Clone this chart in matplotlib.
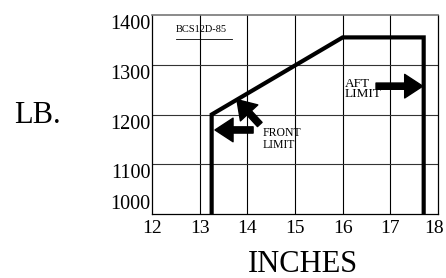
import matplotlib.pyplot as plt
import matplotlib.transforms as mtransforms

# 数据
envelope_x = [13.25, 13.25, 16.0, 17.7, 17.7]
envelope_y = [1000, 1200, 1355, 1355, 1000]
x_ticks = [12, 13, 14, 15, 16, 17, 18]
y_ticks = [1000, 1100, 1200, 1300, 1400]

plt.rcParams['font.family'] = ['Liberation Serif', 'DejaVu Serif']

fig = plt.figure(figsize=(4.46, 2.78), dpi=100)
ax = fig.add_axes([0.341, 0.230, 0.641, 0.716])

ax.set_xlim(12, 18)
ax.set_ylim(1000, 1400)
ax.set_xticks(x_ticks)
ax.set_yticks(y_ticks)
ax.tick_params(length=0, labelsize=14.5)
ax.tick_params(axis='x', pad=4, labelsize=14)
ax.tick_params(axis='y', pad=1)
# 纵轴标签顶端对齐网格线，最下面一个底端对齐
for lab in ax.get_yticklabels():
    lab.set_va('top')
ax.get_yticklabels()[0].set_va('bottom')
# 最右边的 18 稍微左移，避免出界
last = ax.get_xticklabels()[-1]
last.set_transform(last.get_transform() +
                   mtransforms.ScaledTranslation(-3 / 72, 0, fig.dpi_scale_trans))

# 网格
for x in x_ticks[1:-1]:
    ax.axvline(x, color='black', lw=0.8, zorder=1)
for y in y_ticks[1:-1]:
    ax.axhline(y, color='#333333', lw=0.8, zorder=1)
for s in ['left', 'bottom', 'right']:
    ax.spines[s].set_color('black')
    ax.spines[s].set_linewidth(0.9)
ax.spines['top'].set_color('#777777')
ax.spines['top'].set_linewidth(1.2)

# 包线
ax.plot(envelope_x, envelope_y, color='black', lw=3, solid_joinstyle='miter', zorder=3)

arrow = dict(facecolor='black', edgecolor='black', width=4.5, headwidth=17, headlength=13)
ax.annotate('', xy=(13.32, 1169), xytext=(14.12, 1169), arrowprops=arrow)
ax.annotate('', xy=(13.78, 1230), xytext=(14.26, 1180), arrowprops=arrow)
ax.annotate('', xy=(17.68, 1257), xytext=(16.7, 1257), arrowprops=arrow)

ax.text(14.33, 1151, 'FRONT\nLIMIT', fontsize=8.5, va='center', ha='left', linespacing=0.95)
ax.text(16.05, 1251, 'AFT\nLIMIT', fontsize=9.5, va='center', ha='left', linespacing=0.75)
ax.text(12.5, 1370, 'BCS12D-85', fontsize=7.5, va='center', ha='left')
ax.plot([12.5, 13.67], [1352, 1352], color='black', lw=0.6)

fig.text(0.032, 0.585, 'LB.', fontsize=22, va='center', ha='left')
fig.text(0.68, 0.047, 'INCHES', fontsize=22, va='center', ha='center')

fig.savefig('out.png', dpi=100)
